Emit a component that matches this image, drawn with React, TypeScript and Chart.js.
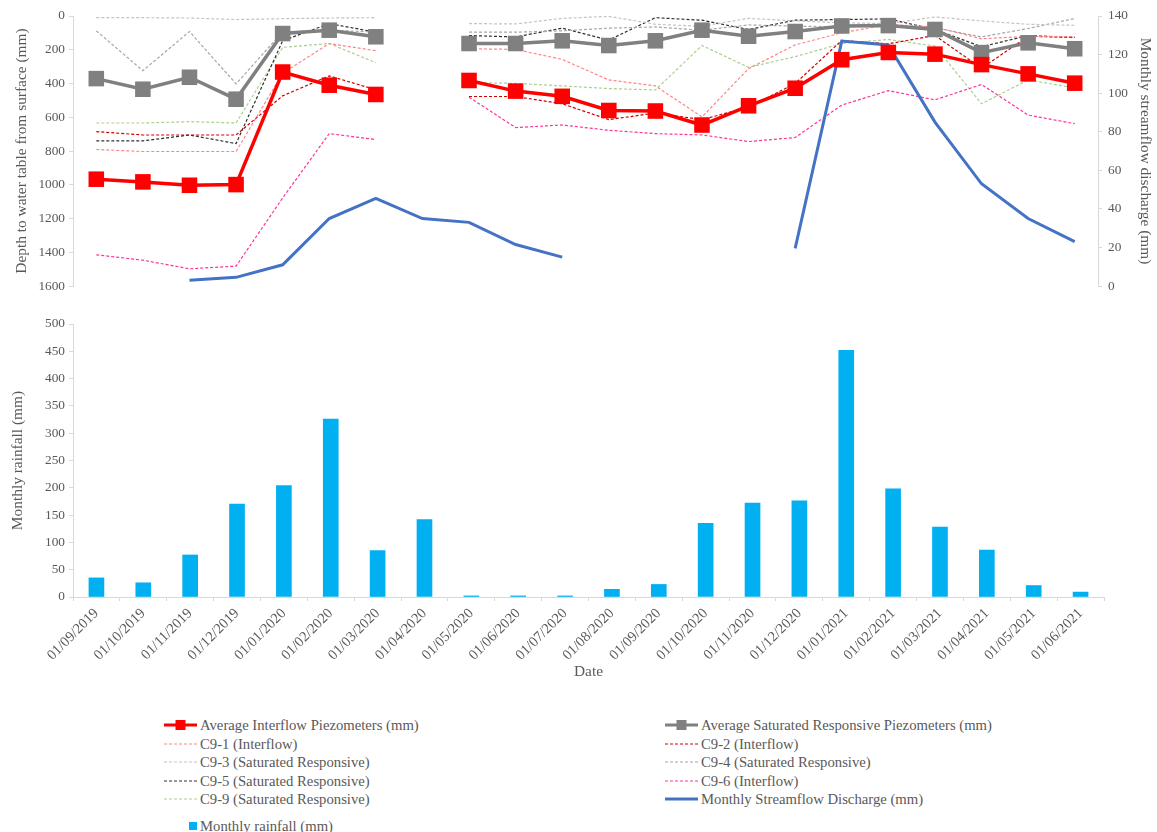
import React, { useEffect, useRef } from 'react';
import { Chart, registerables } from 'chart.js';

Chart.register(...registerables);

const dates = [
  '01/09/2019', '01/10/2019', '01/11/2019', '01/12/2019', '01/01/2020', '01/02/2020',
  '01/03/2020', '01/04/2020', '01/05/2020', '01/06/2020', '01/07/2020', '01/08/2020',
  '01/09/2020', '01/10/2020', '01/11/2020', '01/12/2020', '01/01/2021', '01/02/2021',
  '01/03/2021', '01/04/2021', '01/05/2021', '01/06/2021',
];

const avgInterflow = [967, 983, 1003, 999, 332, 410, 465, null, 382, 445, 476, 560, 563, 646, 532, 428, 259, 216, 226, 288, 343, 398];
const avgSaturated = [371, 434, 363, 493, 104, 84, 123, null, 163, 163, 147, 175, 147, 84, 120, 92, 59, 57, 80, 217, 159, 194];
const c91 = [791, 803, 803, 803, 339, 163, 206, null, 194, 198, 257, 379, 414, 598, 312, 171, 100, 50, 65, 135, 120, 123];
const c92 = [685, 705, 705, 705, 473, 355, 437, null, 477, 477, 520, 614, 575, 614, 540, 400, 145, 165, 115, 310, 120, 127];
const c93 = [10, 10, 12, 21, 16, 12, 10, null, 45, 47, 14, 2, 49, 61, 14, 29, 40, 45, 6, 29, 49, 55];
const c94 = [88, 324, 92, 402, 94, 84, 95, null, 96, 96, 88, 72, 65, 84, 53, 60, 65, 60, 70, 124, 74, 15];
const c95 = [740, 740, 705, 756, 147, 45, 96, null, 116, 124, 72, 143, 10, 25, 80, 25, 21, 17, 80, 182, 116, 127];
const c96 = [1415, 1447, 1498, 1482, 1078, 697, 732, null, 481, 661, 646, 677, 697, 705, 744, 720, 528, 442, 497, 406, 587, 638];
const c99 = [634, 634, 626, 634, 186, 163, 277, null, 395, 399, 414, 430, 438, 175, 304, 241, 163, 139, 178, 520, 379, 426];
const streamflow = [null, null, 3, 4.5, 11, 35, 45.5, 35, 33, 21.5, 15, null, null, null, null, 19.5, 127, 125, 85, 53, 35, 23];
const rainfall = [35, 26, 77, 170, 204, 326, 85, 142, 2, 2, 2, 14, 23, 135, 172, 176, 452, 198, 128, 86, 21, 9];

const depthTicks = { min: 0, max: 1600, step: 200 };
const flowTicks = { min: 0, max: 140, step: 20 };
const rainTicks = { min: 0, max: 500, step: 50 };

const FONT = '"Liberation Serif", "Times New Roman", serif';
const TEXT = '#595959';
const AXIS = '#d9d9d9';

type Kind = 'avg' | 'dash' | 'flow' | 'bar';
interface Series { label: string; data: (number | null)[]; color: string; kind: Kind; }

const lineSeries: Series[] = [
  { label: 'Average Interflow Piezometers (mm)', data: avgInterflow, color: '#FF0000', kind: 'avg' },
  { label: 'Average Saturated Responsive Piezometers (mm)', data: avgSaturated, color: '#808080', kind: 'avg' },
  { label: 'C9-1 (Interflow)', data: c91, color: '#FF8585', kind: 'dash' },
  { label: 'C9-2 (Interflow)', data: c92, color: '#D00000', kind: 'dash' },
  { label: 'C9-3 (Saturated Responsive)', data: c93, color: '#C4C4C4', kind: 'dash' },
  { label: 'C9-4 (Saturated Responsive)', data: c94, color: '#A6A6A6', kind: 'dash' },
  { label: 'C9-5 (Saturated Responsive)', data: c95, color: '#303030', kind: 'dash' },
  { label: 'C9-6 (Interflow)', data: c96, color: '#FF3399', kind: 'dash' },
  { label: 'C9-9 (Saturated Responsive)', data: c99, color: '#A9D18E', kind: 'dash' },
  { label: 'Monthly Streamflow Discharge (mm)', data: streamflow, color: '#4472C4', kind: 'flow' },
];
const rainSeries: Series = { label: 'Monthly rainfall (mm)', data: rainfall, color: '#00B0F0', kind: 'bar' };

function Marker({ s }: { s: Series }) {
  if (s.kind === 'bar') {
    return (
      <svg width={33} height={18} style={{ display: 'block' }}>
        <rect x={25} y={5} width={8} height={8} fill={s.color} />
      </svg>
    );
  }
  return (
    <svg width={33} height={18} style={{ display: 'block' }}>
      {s.kind === 'dash' ? (
        <line x1={0} y1={9} x2={33} y2={9} stroke={s.color} strokeWidth={1.2} strokeDasharray="3 2" />
      ) : (
        <line x1={0} y1={9} x2={33} y2={9} stroke={s.color} strokeWidth={3} />
      )}
      {s.kind === 'avg' && <rect x={11.5} y={4} width={10} height={10} fill={s.color} />}
    </svg>
  );
}

function LegendItem({ s, left, cy }: { s: Series; left: number; cy: number }) {
  return (
    <div style={{ position: 'absolute', left, top: cy - 9, height: 18, display: 'flex', alignItems: 'center', whiteSpace: 'nowrap' }}>
      <Marker s={s} />
      <span style={{ marginLeft: 3, fontFamily: FONT, fontSize: '14.7px', color: TEXT, lineHeight: '18px' }}>{s.label}</span>
    </div>
  );
}

const plain = (v: any) => String(v);

export default function App() {
  const topRef = useRef<HTMLCanvasElement>(null);
  const botRef = useRef<HTMLCanvasElement>(null);

  useEffect(() => {
    const tickFont = { family: FONT, size: 13.3 };
    const titleFont = { family: FONT, size: 15.4 };

    const datasets = lineSeries.map((s, i) => {
      const base: any = {
        label: s.label,
        data: s.data,
        borderColor: s.color,
        backgroundColor: s.color,
        tension: 0,
        spanGaps: false,
        order: i,
        yAxisID: s.kind === 'flow' ? 'y1' : 'y',
      };
      if (s.kind === 'avg') {
        return { ...base, borderWidth: 3.5, pointStyle: 'rect', pointRadius: 11, pointBorderWidth: 0, pointBackgroundColor: s.color, pointHoverRadius: 11 };
      }
      if (s.kind === 'dash') {
        return { ...base, borderWidth: 1.2, borderDash: [3, 2], pointRadius: 0, pointHoverRadius: 0, order: i + 20 };
      }
      return { ...base, borderWidth: 3, pointRadius: 0, pointHoverRadius: 0, order: 2 };
    });

    const top = new Chart(topRef.current!, {
      type: 'line',
      data: { labels: dates, datasets },
      options: {
        responsive: false,
        animation: false,
        devicePixelRatio: 1,
        events: [],
        layout: { padding: { top: 16, bottom: 13, left: 0, right: 0 } },
        plugins: { legend: { display: false }, tooltip: { enabled: false } },
        scales: {
          x: { display: false, offset: true },
          y: {
            position: 'left',
            reverse: true,
            min: depthTicks.min,
            max: depthTicks.max,
            ticks: { stepSize: depthTicks.step, color: TEXT, font: tickFont, padding: 4, callback: plain },
            grid: { drawOnChartArea: false, drawTicks: true, tickLength: 4, color: AXIS },
            border: { display: true, color: AXIS },
            title: { display: true, text: 'Depth to water table from surface (mm)', color: TEXT, font: titleFont, padding: { top: 13, bottom: 0 } },
            afterFit: (s: any) => { s.width = 73; },
          },
          y1: {
            position: 'right',
            min: flowTicks.min,
            max: flowTicks.max,
            ticks: { stepSize: flowTicks.step, color: TEXT, font: tickFont, padding: 6, callback: plain },
            grid: { drawOnChartArea: false, drawTicks: true, tickLength: 4, color: AXIS },
            border: { display: true, color: AXIS },
            title: { display: true, text: 'Monthly streamflow discharge (mm)', color: TEXT, font: titleFont, padding: { top: 3, bottom: 0 } },
            afterFit: (s: any) => { s.width = 59; },
          },
        },
      } as any,
    });

    const bot = new Chart(botRef.current!, {
      type: 'bar',
      data: {
        labels: dates,
        datasets: [{ label: rainSeries.label, data: rainSeries.data as number[], backgroundColor: rainSeries.color, barThickness: 15 }],
      },
      options: {
        responsive: false,
        animation: false,
        devicePixelRatio: 1,
        events: [],
        layout: { padding: { top: 24, bottom: 0, left: 0, right: 53 } },
        plugins: { legend: { display: false }, tooltip: { enabled: false } },
        scales: {
          x: {
            offset: true,
            ticks: { color: TEXT, font: { family: FONT, size: 14.5 }, maxRotation: 45, minRotation: 45, autoSkip: false, padding: 4 },
            grid: { offset: true, drawOnChartArea: false, drawTicks: true, tickLength: 4, color: AXIS },
            border: { display: true, color: AXIS },
            title: { display: true, text: 'Date', color: TEXT, font: titleFont, padding: { top: 0, bottom: 19 } },
            afterFit: (s: any) => { s.height = 103; },
          },
          y: {
            min: rainTicks.min,
            max: rainTicks.max,
            ticks: { stepSize: rainTicks.step, color: TEXT, font: tickFont, padding: 4, callback: plain },
            grid: { drawOnChartArea: false, drawTicks: true, tickLength: 4, color: AXIS },
            border: { display: true, color: AXIS },
            title: { display: true, text: 'Monthly rainfall (mm)', color: TEXT, font: titleFont, padding: { top: 9, bottom: 0 } },
            afterFit: (s: any) => { s.width = 73; },
          },
        },
      } as any,
    });

    return () => { top.destroy(); bot.destroy(); };
  }, []);

  const rowsY = [725, 743.5, 762, 780.5, 799];
  const leftCol = lineSeries.filter((_, i) => i % 2 === 0);
  const rightCol = lineSeries.filter((_, i) => i % 2 === 1);

  return (
    <div style={{ position: 'absolute', left: 0, top: 0, width: 1157, height: 832, background: '#fff', overflow: 'hidden' }}>
      <canvas ref={topRef} width={1157} height={300} style={{ position: 'absolute', left: 0, top: 0, width: 1157, height: 300 }} />
      <canvas ref={botRef} width={1157} height={400} style={{ position: 'absolute', left: 0, top: 300, width: 1157, height: 400 }} />
      {leftCol.map((s, i) => <LegendItem key={s.label} s={s} left={164} cy={rowsY[i]} />)}
      {rightCol.map((s, i) => <LegendItem key={s.label} s={s} left={665} cy={rowsY[i]} />)}
      <LegendItem s={rainSeries} left={164} cy={826} />
    </div>
  );
}
